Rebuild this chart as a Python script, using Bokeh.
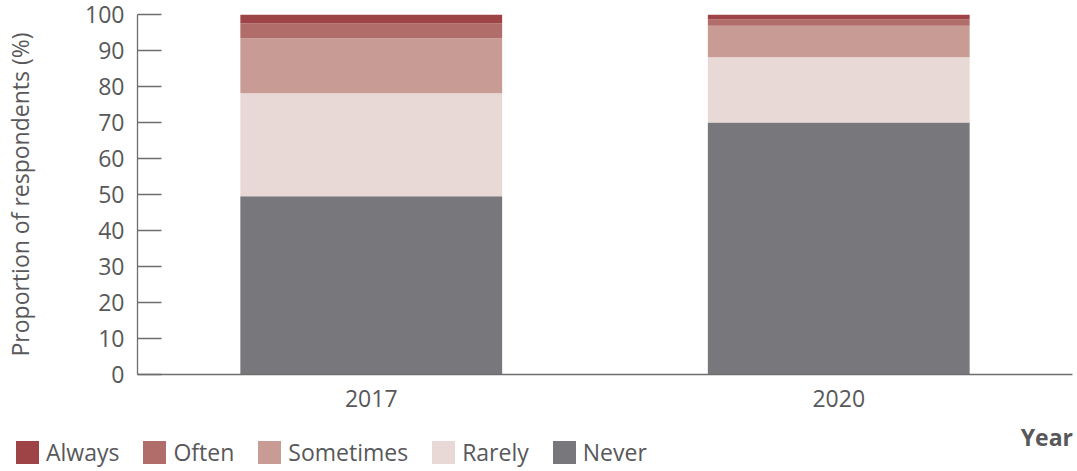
from bokeh.plotting import figure
from bokeh.layouts import column
from bokeh.models import (ColumnDataSource, FactorRange, Range1d, Div, SingleIntervalTicker)
from bokeh.embed import file_html
from bokeh.resources import INLINE

# ---- data ----
years = ["2017", "2020"]
never = [49.5, 70.0]
rarely = [28.6, 18.1]
sometimes = [15.3, 8.8]
often = [4.2, 1.8]
always = [2.4, 1.3]

series = ["Never", "Rarely", "Sometimes", "Often", "Always"]
colors = ["#78787C", "#E8D8D6", "#C99B95", "#B06D69", "#9E4446"]
x_title = "Year"
y_title = "Proportion of respondents (%)"

FONT = "Open Sans"
TXT = "#58585A"
AX = "#6E6E6E"

source = ColumnDataSource(dict(year=years, Never=never, Rarely=rarely,
                               Sometimes=sometimes, Often=often, Always=always))

# ---- main chart ----
p = figure(x_range=FactorRange(factors=years), y_range=Range1d(0, 100),
           width=1077, height=425, output_backend="svg", toolbar_location=None,
           min_border_left=137, min_border_right=5, min_border_top=14, min_border_bottom=51)

renderers = p.vbar_stack(series, x="year", width=0.56, color=colors, line_color=None,
                         source=source)

p.xgrid.visible = False
p.ygrid.visible = False
p.outline_line_color = None
p.background_fill_color = "white"
p.border_fill_color = "white"

p.yaxis.ticker = SingleIntervalTicker(interval=10)
p.yaxis.minor_tick_line_color = None
p.yaxis.major_tick_in = 24
p.yaxis.major_tick_out = 0
p.yaxis.major_label_standoff = 9
p.yaxis.axis_line_color = AX
p.yaxis.axis_line_width = 1.3
p.yaxis.major_tick_line_color = AX
p.yaxis.major_tick_line_width = 1.3
p.yaxis.major_label_text_font = FONT
p.yaxis.major_label_text_font_size = "23px"
p.yaxis.major_label_text_color = TXT
p.yaxis.axis_label = y_title
p.yaxis.axis_label_text_font = FONT
p.yaxis.axis_label_text_font_size = "23px"
p.yaxis.axis_label_text_font_style = "normal"
p.yaxis.axis_label_text_color = TXT
p.yaxis.axis_label_standoff = 46

p.xaxis.major_tick_in = 0
p.xaxis.major_tick_out = 0
p.xaxis.major_tick_line_color = None
p.xaxis.minor_tick_line_color = None
p.xaxis.major_label_standoff = 15
p.xaxis.axis_line_color = AX
p.xaxis.axis_line_width = 1.3
p.xaxis.major_label_text_font = FONT
p.xaxis.major_label_text_font_size = "23px"
p.xaxis.major_label_text_color = TXT

# ---- legend strip (legend order: Always ... Never) ----
entries = ""
for s, c in list(zip(series, colors))[::-1]:
    entries += (f'<span style="display:inline-block;width:23px;height:23px;background:{c};'
                f'margin-right:7px;flex:none"></span>'
                f'<span style="margin-right:24px;line-height:23px;white-space:nowrap">{s}</span>')

html = (f'<div style="position:relative;width:1077px;height:46px;font-family:\'{FONT}\';'
        f'font-size:23px;color:{TXT};">'
        f'<div style="position:absolute;left:11px;top:11px;display:flex;align-items:center;">'
        f'{entries}</div>'
        f'<div style="position:absolute;right:9px;top:-4px;line-height:23px;font-weight:bold;">'
        f'{x_title}</div></div>')

legend_strip = Div(text=html, width=1077, height=46)

layout = column(p, legend_strip, spacing=0)
open("out.html", "w").write(file_html(layout, INLINE))
